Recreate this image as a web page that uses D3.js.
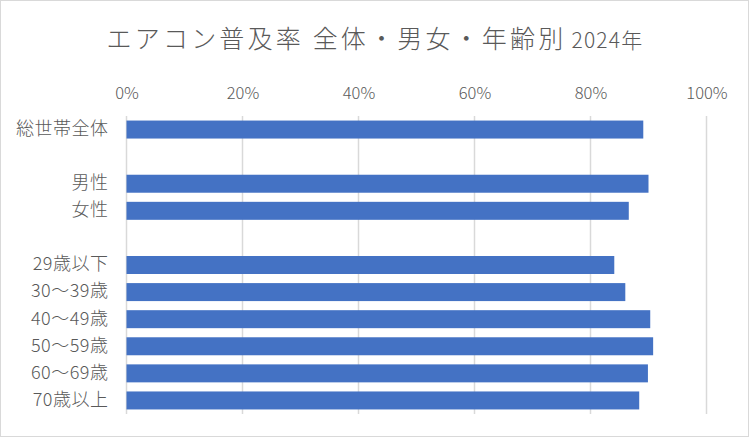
<!DOCTYPE html>
<html><head><meta charset="utf-8">
<script src="https://cdn.jsdelivr.net/npm/d3@7"></script>
<style>body{margin:0;background:#fff}svg{display:block}text{font-family:"Noto Sans CJK JP","Noto Sans",sans-serif;fill:#595959;font-weight:300}</style>
</head><body>
<script>
const categories = ["総世帯全体", "", "男性", "女性", "", "29歳以下", "30〜39歳", "40〜49歳", "50〜59歳", "60〜69歳", "70歳以上"];
const values = [0.891, null, 0.900, 0.866, null, 0.841, 0.860, 0.903, 0.908, 0.899, 0.884];
const tickValues = [0, 0.2, 0.4, 0.6, 0.8, 1.0];
const titleMain = "エアコン普及率 全体・男女・年齢別";
const titleSub = "2024年";

const W = 751, H = 439;
const svg = d3.select("body").append("svg").attr("width", W).attr("height", H);
svg.append("rect").attr("x", 0.5).attr("y", 0.5).attr("width", W - 3).attr("height", H - 3)
  .attr("fill", "#fff").attr("stroke", "#d9d9d9");

const pLeft = 126.5, pRight = 706.5, pTop = 116, pBottom = 414;
const x = d3.scaleLinear().domain([0, 1]).range([pLeft, pRight]);
const y = d3.scaleBand().domain(d3.range(categories.length)).range([pTop, pBottom])
  .paddingInner(0.336).paddingOuter(0.168);

// gridlines
svg.append("g").selectAll("line").data(tickValues).join("line")
  .attr("x1", d => x(d)).attr("x2", d => x(d)).attr("y1", pTop).attr("y2", pBottom)
  .attr("stroke", "#d9d9d9").attr("stroke-width", 1.5);

// top axis labels
const xAxis = d3.axisTop(x).tickValues(tickValues).tickFormat(d3.format(".0%")).tickSize(0).tickPadding(0);
const gx = svg.append("g").attr("transform", `translate(0,${pTop - 17})`).call(xAxis);
gx.select(".domain").remove();
gx.selectAll("text").attr("font-size", 16.5).attr("fill", "#595959").attr("dy", 0);

// bars
svg.append("g").selectAll("rect").data(values.map((v, i) => ({v, i})).filter(d => d.v != null)).join("rect")
  .attr("x", x(0)).attr("y", d => y(d.i)).attr("width", d => x(d.v) - x(0)).attr("height", y.bandwidth())
  .attr("fill", "#4472C4");

// category labels
const yAxis = d3.axisLeft(y).tickFormat(i => categories[i]).tickSize(0).tickPadding(18);
const gy = svg.append("g").attr("transform", `translate(${pLeft},0)`).call(yAxis);
gy.select(".domain").remove();
gy.selectAll("text").attr("font-size", 18).attr("letter-spacing", 0.5).attr("fill", "#595959").attr("dy", "0.3em");

// title
const t = svg.append("text").attr("x", 375).attr("y", 48).attr("text-anchor", "middle");
t.append("tspan").attr("font-size", 25).attr("letter-spacing", 3.2).text(titleMain);
t.append("tspan").attr("font-size", 21).attr("letter-spacing", 1.2).attr("dx", 5).text(titleSub);
</script>
</body></html>
